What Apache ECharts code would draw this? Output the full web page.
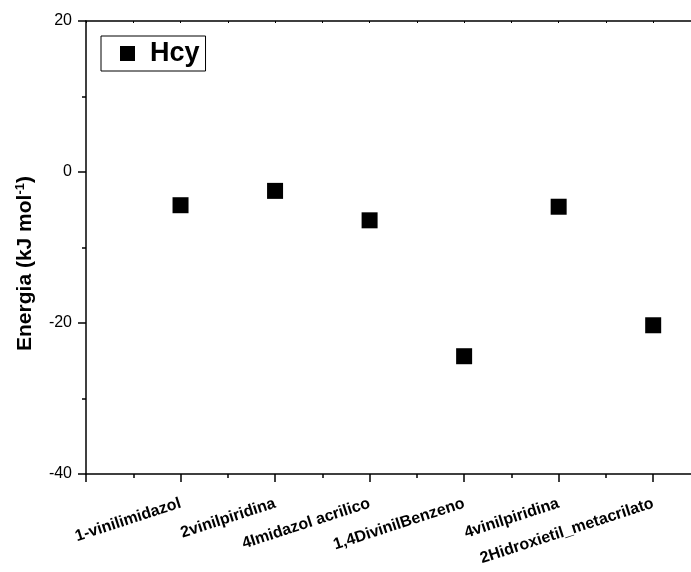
<!DOCTYPE html>
<html>
<head>
<meta charset="utf-8">
<script src="https://cdn.jsdelivr.net/npm/echarts@6/dist/echarts.min.js"></script>
<style>
html, body { margin: 0; padding: 0; background: #fff; }
#MyChart { width: 691px; height: 572px; }
</style>
</head>
<body>
<div id="MyChart"></div>
<script>
//分类名称
var categories = ['1-vinilimidazol', '2vinilpiridina', '4Imidazol acrilico', '1,4DivinilBenzeno', '4vinilpiridina', '2Hidroxietil_metacrilato'];
//能量值
var energies = [-4.4, -2.5, -6.4, -24.4, -4.6, -20.3];
var yTicks = [-40, -20, 0, 20];

var points = [];
var majorX = [0];
var minorX = [];
for (var i = 0; i < categories.length; i++) {
    points.push([i + 1, energies[i]]);
    majorX.push(i + 1);
    minorX.push(i + 0.5);
}

var axisColor = '#000';
var myChart = echarts.init(document.getElementById('MyChart'));
var option = {
    backgroundColor: '#fff',
    animation: false,
    grid: { left: 86, right: 0, top: 21, bottom: 98 },
    legend: {
        left: 101,
        top: 36,
        padding: [4, 6, 4, 19],
        borderColor: axisColor,
        borderWidth: 1,
        borderRadius: 0,
        icon: 'rect',
        itemWidth: 15,
        itemHeight: 15,
        textStyle: { fontFamily: 'Liberation Sans', fontWeight: 'bold', fontSize: 27, color: '#000', padding: [0, 0, 0, 10] },
        data: ['Hcy']
    },
    xAxis: [
        {
            //主刻度和标签
            type: 'value',
            min: 0,
            max: 6.4,
            position: 'bottom',
            splitLine: { show: false },
            axisLine: { onZero: false, lineStyle: { color: axisColor, width: 1.5 } },
            axisTick: { show: true, inside: false, length: 8, customValues: majorX, lineStyle: { color: axisColor, width: 1.5 } },
            axisLabel: {
                customValues: majorX.slice(1),
                rotate: 18,
                margin: 29,
                fontFamily: 'Liberation Sans',
                fontWeight: 'bold',
                fontSize: 16,
                color: '#000',
                formatter: function (v) {
                    var k = Math.round(v);
                    return (k >= 1 && k <= categories.length) ? categories[k - 1] : '';
                }
            }
        },
        {
            //次刻度
            type: 'value',
            min: 0,
            max: 6.4,
            position: 'bottom',
            splitLine: { show: false },
            axisLine: { show: false, onZero: false },
            axisTick: { show: true, inside: false, length: 4, customValues: minorX, lineStyle: { color: axisColor, width: 1.5 } },
            axisLabel: { show: false }
        },
        {
            type: 'value',
            min: 0,
            max: 6.4,
            position: 'top',
            splitLine: { show: false },
            axisLine: { onZero: false, lineStyle: { color: axisColor, width: 1.5 } },
            axisTick: { show: true, inside: true, length: 2, customValues: majorX.concat(minorX), lineStyle: { color: axisColor, width: 1 } },
            axisLabel: { show: false }
        }
    ],
    yAxis: {
        type: 'value',
        min: yTicks[0],
        max: yTicks[yTicks.length - 1],
        interval: 20,
        name: '{a|Energia (kJ mol}{s|-1}{a|)}',
        nameLocation: 'middle',
        nameRotate: 90,
        nameGap: 50,
        nameTextStyle: {
            padding: [0, 32, 0, 0],
            rich: {
                a: { fontFamily: 'Liberation Sans', fontWeight: 'bold', fontSize: 21, color: '#000' },
                s: { fontFamily: 'Liberation Sans', fontWeight: 'bold', fontSize: 13, color: '#000', verticalAlign: 'top', padding: [0, 0, 9, 0] }
            }
        },
        splitLine: { show: false },
        axisLine: { onZero: false, lineStyle: { color: axisColor, width: 1.5 } },
        axisTick: { show: true, inside: false, length: 8, lineStyle: { color: axisColor, width: 1.5 } },
        minorTick: { show: true, splitNumber: 2, length: 4, lineStyle: { color: axisColor, width: 1.5 } },
        axisLabel: { margin: 14, fontFamily: 'Liberation Sans', fontSize: 16, color: '#000' }
    },
    series: [
        {
            name: 'Hcy',
            type: 'scatter',
            symbol: 'rect',
            symbolSize: 16,
            itemStyle: { color: '#000', opacity: 1 },
            data: points
        }
    ]
};
myChart.setOption(option);
</script>
</body>
</html>
